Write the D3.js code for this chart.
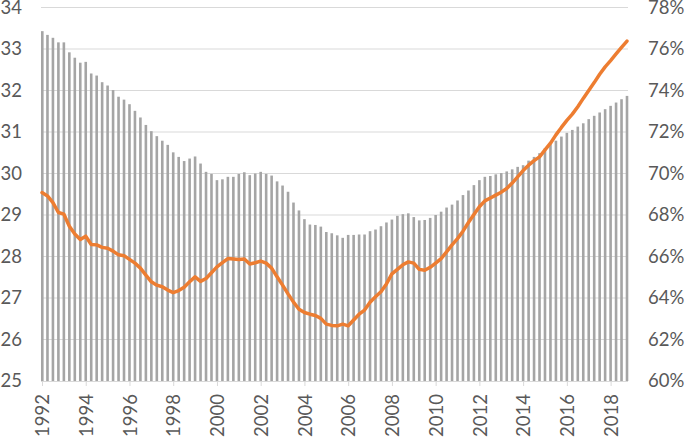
<!DOCTYPE html>
<html>
<head>
<meta charset="utf-8">
<script src="https://cdn.jsdelivr.net/npm/d3@7"></script>
<style>
  body { margin: 0; background: #fff; }
  text { font-family: Lato, "Open Sans", sans-serif; fill: #595959; }
</style>
</head>
<body>
<script>
// Chart dimension
const width = 685;
const height = 438;
const plotLeft = 41, plotRight = 628, plotTop = 7.5, plotBottom = 381;

// Quarterly data, 1992 Q1 .. 2018 Q4
const startYear = 1992;
const barValues = [
    33.43, 33.34, 33.27, 33.16, 33.16, 32.92, 32.79, 32.67, 32.69, 32.41,
    32.36, 32.20, 32.12, 32.01, 31.85, 31.78, 31.67, 31.51, 31.35, 31.17,
    31.02, 30.90, 30.79, 30.69, 30.51, 30.40, 30.30, 30.36, 30.41, 30.24,
    30.04, 29.99, 29.84, 29.86, 29.92, 29.92, 29.99, 30.03, 29.96, 30.00,
    30.04, 29.99, 29.95, 29.81, 29.71, 29.56, 29.30, 29.11, 28.90, 28.77,
    28.76, 28.72, 28.59, 28.56, 28.51, 28.45, 28.52, 28.52, 28.53, 28.53,
    28.61, 28.65, 28.73, 28.82, 28.89, 28.98, 29.02, 29.04, 28.95, 28.87,
    28.88, 28.93, 29.00, 29.08, 29.18, 29.25, 29.35, 29.48, 29.59, 29.72,
    29.84, 29.92, 29.94, 29.98, 30.01, 30.05, 30.10, 30.16, 30.20, 30.31,
    30.40, 30.49, 30.61, 30.71, 30.79, 30.89, 30.98, 31.05, 31.13, 31.21,
    31.31, 31.39, 31.47, 31.55, 31.63, 31.71, 31.79, 31.87
];
// Right axis (percent)
const lineValues = [
    69.08, 68.92, 68.60, 68.12, 68.04, 67.46, 67.08, 66.82, 66.98, 66.58,
    66.56, 66.44, 66.40, 66.26, 66.08, 66.04, 65.86, 65.68, 65.44, 65.10,
    64.78, 64.62, 64.54, 64.38, 64.26, 64.36, 64.52, 64.78, 65.02, 64.80,
    64.94, 65.22, 65.50, 65.70, 65.90, 65.88, 65.86, 65.88, 65.64, 65.70,
    65.78, 65.68, 65.44, 65.02, 64.62, 64.20, 63.80, 63.46, 63.30, 63.22,
    63.16, 63.02, 62.74, 62.68, 62.66, 62.74, 62.66, 62.94, 63.22, 63.42,
    63.80, 64.06, 64.30, 64.68, 65.16, 65.38, 65.60, 65.74, 65.68, 65.38,
    65.34, 65.48, 65.68, 65.90, 66.22, 66.56, 66.86, 67.22, 67.64, 68.02,
    68.40, 68.68, 68.82, 68.96, 69.10, 69.28, 69.54, 69.84, 70.14, 70.40,
    70.62, 70.80, 71.14, 71.46, 71.86, 72.22, 72.56, 72.86, 73.22, 73.62,
    74.00, 74.38, 74.78, 75.14, 75.44, 75.76, 76.08, 76.38
];
const leftTicks = [25, 26, 27, 28, 29, 30, 31, 32, 33, 34];
const rightTicks = [60, 62, 64, 66, 68, 70, 72, 74, 76, 78];
const yearTicks = [1992, 1994, 1996, 1998, 2000, 2002, 2004, 2006, 2008, 2010, 2012, 2014, 2016, 2018];

const data = barValues.map((v, i) => ({ i: i, bar: v, pct: lineValues[i] }));

const svg = d3.select("body")
    .append("svg")
    .attr("width", width)
    .attr("height", height);

// Scales
const x = d3.scaleLinear()
    .domain([0, barValues.length - 1])
    .range([42, 627]);

const yLeft = d3.scaleLinear()
    .domain([25, 34])
    .range([plotBottom, plotTop]);

const yRight = d3.scaleLinear()
    .domain([60, 78])
    .range([plotBottom, plotTop]);

// Gridlines
svg.append("g")
    .selectAll("line")
    .data(leftTicks.slice(1))
    .enter()
    .append("line")
    .attr("x1", plotLeft)
    .attr("x2", plotRight)
    .attr("y1", d => yLeft(d))
    .attr("y2", d => yLeft(d))
    .attr("stroke", "#d9d9d9")
    .attr("stroke-width", 1);

// Bars
const barWidth = 2.6;
svg.append("g")
    .selectAll("rect")
    .data(data)
    .enter()
    .append("rect")
    .attr("x", d => Math.max(plotLeft, x(d.i) - barWidth / 2))
    .attr("y", d => yLeft(d.bar))
    .attr("width", barWidth)
    .attr("height", d => yLeft(25) - yLeft(d.bar))
    .attr("fill", "#a5a5a5");

// Bottom axis
const xAxis = d3.axisBottom(x)
    .tickValues(yearTicks.map(y => (y - startYear) * 4))
    .tickFormat(d => startYear + d / 4)
    .tickSize(5)
    .tickSizeOuter(0);

const gx = svg.append("g")
    .attr("transform", `translate(0, ${plotBottom})`)
    .call(xAxis);
gx.select(".domain")
    .attr("d", `M${plotLeft},0.5H${plotRight}`)
    .attr("stroke", "#d9d9d9");
gx.selectAll(".tick line").attr("stroke", "#d9d9d9");
gx.selectAll(".tick text")
    .attr("font-size", 18.5)
    .attr("text-anchor", "end")
    .attr("transform", "rotate(-90)")
    .attr("x", -13)
    .attr("y", 0)
    .attr("dy", "0.36em")
    .style("fill", "#595959");

// Left axis
const gl = svg.append("g")
    .attr("transform", `translate(22, 0)`)
    .call(d3.axisLeft(yLeft).tickValues(leftTicks).tickSize(0).tickPadding(0));
gl.select(".domain").remove();
gl.selectAll("text").attr("font-size", 18.5).style("fill", "#595959");

// Right axis
const gr = svg.append("g")
    .attr("transform", `translate(648, 0)`)
    .call(d3.axisRight(yRight).tickValues(rightTicks).tickFormat(d => d + "%").tickSize(0).tickPadding(0));
gr.select(".domain").remove();
gr.selectAll("text").attr("font-size", 18.5).style("fill", "#595959");

// Line
const line = d3.line()
    .x(d => x(d.i))
    .y(d => yRight(d.pct));

svg.append("path")
    .datum(data)
    .attr("d", line)
    .attr("fill", "none")
    .attr("stroke", "#ed7d31")
    .attr("stroke-width", 3.5)
    .attr("stroke-linejoin", "round")
    .attr("stroke-linecap", "round");
</script>
</body>
</html>
